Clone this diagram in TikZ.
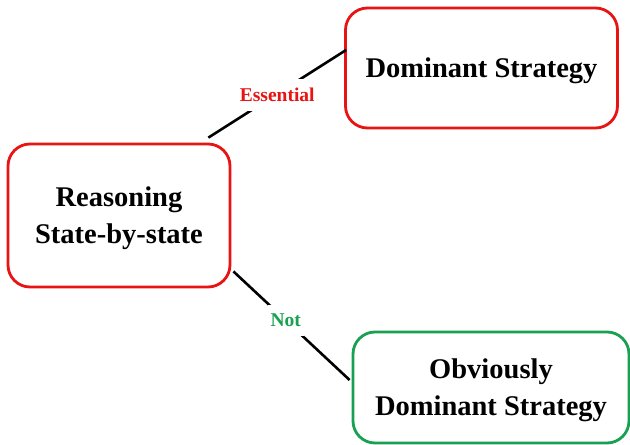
\documentclass[tikz,border=0pt]{standalone}
\usepackage{fontspec}
\setmainfont{Liberation Serif}
\definecolor{boxred}{RGB}{232,20,20}
\definecolor{boxgreen}{RGB}{25,160,80}
\begin{document}
\begin{tikzpicture}[x=1pt,y=-1pt,
  box/.style={draw, line width=2.8pt, rounded corners=22pt, fill=white, align=center,
    inner sep=0pt, text depth=-2.5pt, font={\fontsize{28.5}{37}\selectfont\bfseries}},
  conn/.style={draw=black, line width=2.6pt},
  lab/.style={fill=white, inner xsep=3pt, inner ysep=9pt, font={\fontsize{19.5}{22}\selectfont\bfseries}}]
\useasboundingbox (0,0) rectangle (630,445);
\node[box, draw=boxred, minimum width=222pt, minimum height=143pt] (L) at (119,215.5) {Reasoning\\State-by-state};
\node[box, draw=boxred, minimum width=272pt, minimum height=120pt] (T) at (481.5,68) {Dominant Strategy};
\node[box, draw=boxgreen, minimum width=276pt, minimum height=111pt] (B) at (491,387.5) {Obviously\\Dominant Strategy};
\draw[conn] ([shift={(-23,-5)}]L.north east) -- node[lab, text=boxred, pos=0.5, yshift=-1.5pt] {Essential} ([shift={(2,-18)}]T.west);
\draw[conn] ([shift={(2,-17)}]L.south east) -- node[lab, text=boxgreen, pos=0.45] {Not} ([shift={(-2,-7.5)}]B.west);
\end{tikzpicture}
\end{document}
